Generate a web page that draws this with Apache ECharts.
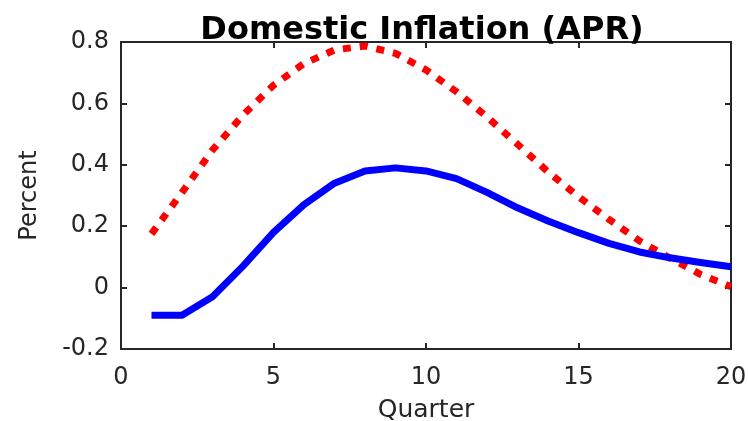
<!DOCTYPE html>
<html>
<head>
<meta charset="utf-8">
<script src="https://cdn.jsdelivr.net/npm/echarts@6/dist/echarts.min.js"></script>
<style>
html,body{margin:0;padding:0;background:#fff;}
#chart{width:748px;height:421px;}
</style>
</head>
<body>
<div id="chart"></div>
<script>
var quarters = [1,2,3,4,5,6,7,8,9,10,11,12,13,14,15,16,17,18,19,20];
var blueSeries = [-0.09,-0.09,-0.03,0.07,0.18,0.27,0.34,0.38,0.39,0.38,0.355,0.31,0.26,0.217,0.179,0.144,0.116,0.097,0.082,0.068];
var redSeries = [0.175,0.31,0.448,0.562,0.659,0.73,0.774,0.787,0.763,0.709,0.638,0.556,0.467,0.377,0.296,0.222,0.152,0.096,0.043,0.003];
var xTicks = [0,5,10,15,20];
var yTicks = [-0.2,0,0.2,0.4,0.6,0.8];
var titleText = 'Domestic Inflation (APR)';
var xName = 'Quarter';
var yName = 'Percent';

function pairs(xs, ys){ return xs.map(function(x,i){ return [x, ys[i]]; }); }

var FONT = 'DejaVu Sans';
var axisColor = '#262626';

var chart = echarts.init(document.getElementById('chart'), null, {renderer:'canvas'});
var baseX = {
  type:'value', min:0, max:20, interval:5,
  axisLine:{show:true, onZero:false, lineStyle:{color:axisColor, width:2}},
  axisTick:{show:true, inside:true, length:6, lineStyle:{color:axisColor, width:2}},
  splitLine:{show:false}
};
var baseY = {
  type:'value', min:-0.2, max:0.8, interval:0.2,
  axisLine:{show:true, onZero:false, lineStyle:{color:axisColor, width:2}},
  axisTick:{show:true, inside:true, length:6, lineStyle:{color:axisColor, width:2}},
  splitLine:{show:false}
};
chart.setOption({
  animation:false,
  backgroundColor:'#ffffff',
  title:{
    text:titleText, left:417, top:10, textAlign:'center',
    textStyle:{fontFamily:FONT, fontWeight:'bold', fontSize:32, color:'#000'}
  },
  grid:{left:121, right:17, top:42, bottom:72, containLabel:false, outerBoundsMode:'none'},
  xAxis:[
    Object.assign({}, baseX, {
      position:'bottom', name:xName, nameLocation:'middle', nameGap:49,
      nameTextStyle:{fontFamily:FONT, fontSize:25, color:'#262626'},
      axisLabel:{show:true, margin:17, fontFamily:FONT, fontSize:24, color:'#262626',
        formatter:function(v){ return xTicks.indexOf(v) >= 0 ? String(v) : ''; }}
    }),
    Object.assign({}, baseX, {position:'top', axisLabel:{show:false}})
  ],
  yAxis:[
    Object.assign({}, baseY, {
      position:'left', name:yName, nameLocation:'middle', nameGap:79, nameRotate:90,
      nameTextStyle:{fontFamily:FONT, fontSize:24, color:'#262626'},
      axisLabel:{show:true, margin:12, fontFamily:FONT, fontSize:24, color:'#262626',
        formatter:function(v){
          var r = Math.round(v*10)/10;
          for (var i=0;i<yTicks.length;i++){ if (Math.abs(yTicks[i]-r)<1e-9) return r===0 ? '0' : r.toFixed(1); }
          return '';
        }}
    }),
    Object.assign({}, baseY, {position:'right', axisLabel:{show:false}})
  ],
  series:[
    {
      type:'line', xAxisIndex:0, yAxisIndex:0, data:pairs(quarters, redSeries),
      showSymbol:false, symbol:'none', smooth:false, z:2,
      lineStyle:{color:'#ff0000', width:7, type:[8,9], cap:'butt'}
    },
    {
      type:'line', xAxisIndex:0, yAxisIndex:0, data:pairs(quarters, blueSeries),
      showSymbol:false, symbol:'none', smooth:false, z:3,
      lineStyle:{color:'#0000ff', width:7, type:'solid', cap:'butt', join:'round'}
    }
  ]
});
</script>
</body>
</html>
